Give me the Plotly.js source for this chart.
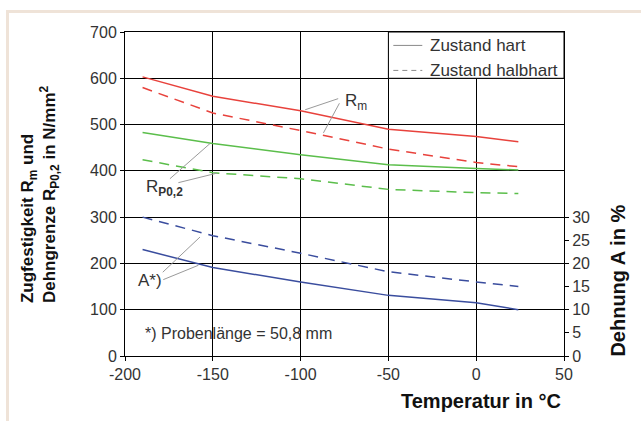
<!DOCTYPE html>
<html>
<head>
<meta charset="utf-8">
<script src="https://cdn.plot.ly/plotly-3.0.1.min.js"></script>
<style>
html,body{margin:0;padding:0;background:#fff;}
#wrap{position:relative;width:641px;height:421px;overflow:hidden;}
#chart{position:absolute;left:0;top:0;width:641px;height:421px;}
.fr{position:absolute;background:#EFE3D8;}
</style>
</head>
<body>
<div id="wrap">
<div id="chart"></div>
<div class="fr" style="left:6px;top:10px;width:3px;height:411px;"></div>
<div class="fr" style="left:6px;top:10px;width:635px;height:3px;"></div>
</div>
<script>
// Temperature in °C
const temps = [-190, -150, -100, -50, 0, 24];
// Zugfestigkeit Rm (N/mm²)
const rmHart = [603, 561, 530, 490, 474, 463];
const rmHalbhart = [580, 525, 487, 447, 418, 409];
// Dehngrenze Rp0,2 (N/mm²)
const rpHart = [483, 459, 435, 413, 405, 402];
const rpHalbhart = [424, 396, 383, 360, 353, 351];
// Dehnung A (%)
const aHart = [23, 19.1, 16, 13.1, 11.5, 10];
const aHalbhart = [30, 26, 22.2, 18.2, 16, 15];

const xTicks = [-200, -150, -100, -50, 0, 50];
const xLabels = ['-200', '-150', '-100', '-50', '0', '50'];
const yTicks = [0, 100, 200, 300, 400, 500, 600, 700];
const y2Ticks = [0, 5, 10, 15, 20, 25, 30];
const y2Labels = ['0', '5', '10', '15', '20', '25', '30'];
const y2ExtraTicks = [35, 40, 45, 50, 55, 60, 65, 70];
const y2AllTicks = y2Ticks.concat(y2ExtraTicks);
const legendNames = ['Zustand hart', 'Zustand halbhart'];

const RED = '#E8423C', GREEN = '#5BBE4B', BLUE = '#3A4D9E';
const DASH = '10px,7px';
const FONT = 'Liberation Sans, Arial, sans-serif';
const TXT = '#333333';

function tr(y, color, dash, axis) {
  return {x: temps, y: y, type: 'scatter', mode: 'lines', yaxis: axis || 'y',
    line: {color: color, width: 1.5, dash: dash}, showlegend: false, hoverinfo: 'skip'};
}
const data = [
  tr(rmHart, RED, 'solid'), tr(rmHalbhart, RED, DASH),
  tr(rpHart, GREEN, 'solid'), tr(rpHalbhart, GREEN, DASH),
  tr(aHart, BLUE, 'solid', 'y2'), tr(aHalbhart, BLUE, DASH, 'y2')
];

const grayLine = {color: '#9A9A9A', width: 1};
function seg(x0, y0, x1, y1, extra) {
  return Object.assign({type: 'line', xref: 'x', yref: 'y', x0: x0, y0: y0, x1: x1, y1: y1, line: grayLine, layer: 'above'}, extra || {});
}
const shapes = [
  {type: 'rect', xref: 'x', yref: 'y', x0: -50, x1: 50, y0: 600, y1: 700,
   fillcolor: '#ffffff', line: {color: '#000', width: 1}, layer: 'between'},
  // legend samples
  seg(-47.2, 671, -30.7, 671, {line: {color: '#8A8A8A', width: 1}}),
  seg(-47.2, 617, -30.7, 617, {line: {color: '#8A8A8A', width: 1, dash: '5px,4px'}}),
  // Rm pointers
  seg(-78.6, 556, -97.4, 532), seg(-77.9, 546, -87, 482),
  // Rp pointers
  seg(-174.4, 383, -151.6, 459), seg(-169.6, 374.5, -147.7, 395),
  // A pointers
  seg(-178.5, 181, -157.3, 257), seg(-178.2, 165, -158.2, 196)
];

function ann(text, x, y, extra) {
  return Object.assign({text: text, x: x, y: y, xref: 'x', yref: 'y', showarrow: false,
    xanchor: 'left', yanchor: 'middle', font: {family: FONT, size: 16, color: TXT}}, extra || {});
}
const annotations = [
  ann(legendNames[0], -27.3, 671, {font: {family: FONT, size: 17, color: TXT}}),
  ann(legendNames[1], -27.3, 617, {font: {family: FONT, size: 17, color: TXT}}),
  ann('R<sub>m</sub>', -76, 549, {font: {family: FONT, size: 17, color: TXT}}),
  ann('R<sub><b>P0,2</b></sub>', -189, 362, {font: {family: FONT, size: 17, color: TXT}}),
  ann('A*)', -193.5, 163, {font: {family: FONT, size: 17, color: TXT}}),
  ann('*) Probenlänge = 50,8 mm', -190, 49, {font: {family: FONT, size: 16, color: TXT}}),
  {text: '<b>Temperatur in °C</b>', xref: 'paper', yref: 'paper', x: 0.812, y: -0.14,
   xanchor: 'center', yanchor: 'middle', showarrow: false, font: {family: FONT, size: 20, color: '#111'}},
  {text: '<b>Zugfestigkeit R<sub>m</sub> und<br>Dehngrenze R<sub>P0,2</sub> in N/mm<sup>2</sup></b>',
   xref: 'paper', yref: 'paper', x: -0.192, y: 0.499, xanchor: 'center', yanchor: 'middle',
   textangle: -90, align: 'left', showarrow: false, font: {family: FONT, size: 17, color: '#111'}},
  {text: '<b>Dehnung A in %</b>', xref: 'paper', yref: 'paper', x: 1.124, y: 0.234,
   xanchor: 'center', yanchor: 'middle', textangle: -90, showarrow: false,
   font: {family: FONT, size: 20, color: '#111'}}
];

const axFont = {family: FONT, size: 16, color: TXT};
const layout = {
  width: 641, height: 421,
  margin: {l: 125, r: 77.4, t: 31.7, b: 65.3, pad: 0},
  paper_bgcolor: 'rgba(0,0,0,0)', plot_bgcolor: '#ffffff',
  showlegend: false,
  xaxis: {range: [-200, 50], tickvals: xTicks, ticktext: xLabels, showgrid: true, gridcolor: '#000', gridwidth: 1,
    zeroline: false, showline: true, linecolor: '#000', linewidth: 1, mirror: true,
    ticks: 'outside', ticklen: 4, tickcolor: '#000', tickfont: axFont},
  yaxis: {range: [0, 700], tickvals: yTicks, showgrid: true, gridcolor: '#000', gridwidth: 1,
    zeroline: false, showline: true, linecolor: '#000', linewidth: 1, mirror: true,
    ticks: 'outside', ticklen: 4, tickcolor: '#000', tickfont: axFont},
  yaxis2: {range: [0, 70], overlaying: 'y', side: 'right', tickvals: y2Ticks, ticktext: y2Labels,
    showgrid: false, zeroline: false, showline: true, linecolor: '#000',
    ticks: 'outside', ticklen: 4, tickcolor: '#000', tickfont: axFont},
  yaxis3: {range: [0, 70], overlaying: 'y', side: 'right', tickvals: y2AllTicks, showticklabels: false,
    showgrid: false, zeroline: false, showline: false,
    ticks: 'inside', ticklen: 4, tickcolor: '#000'},
  yaxis4: {range: [0, 70], overlaying: 'y', side: 'right', tickvals: y2ExtraTicks, showticklabels: false,
    showgrid: false, zeroline: false, showline: false,
    ticks: 'outside', ticklen: 4, tickcolor: '#000'},
  shapes: shapes,
  annotations: annotations
};
Plotly.newPlot('chart', data, layout, {staticPlot: true, displayModeBar: false});
</script>
</body>
</html>
